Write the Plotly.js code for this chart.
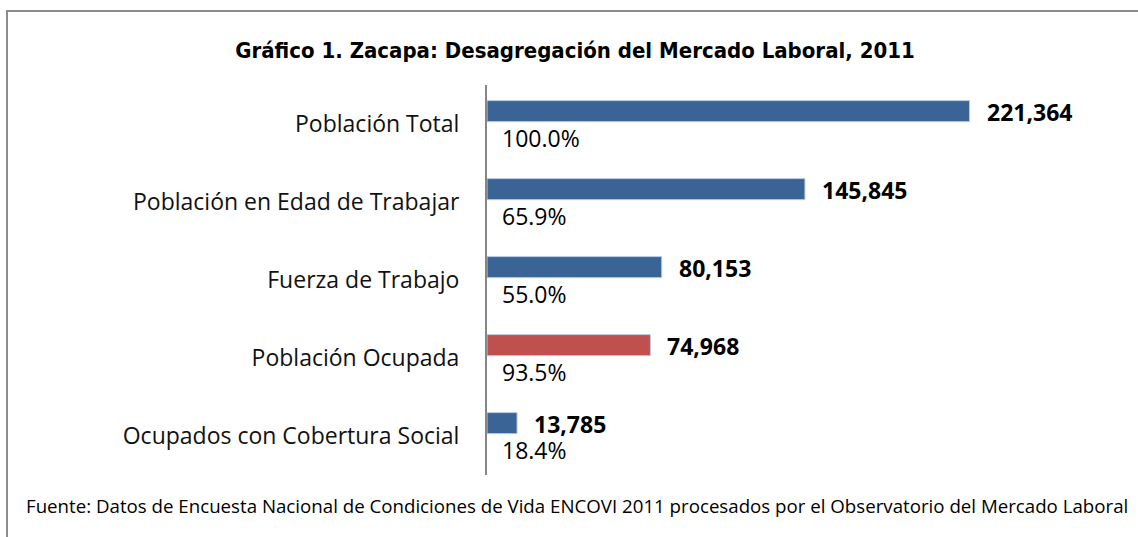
<!DOCTYPE html>
<html>
<head>
<meta charset="utf-8">
<script src="https://cdn.plot.ly/plotly-3.0.1.min.js"></script>
<style>
  html, body { margin: 0; padding: 0; background: #fff; }
  #wrap { position: relative; width: 1138px; height: 537px; overflow: hidden; }
  #frame { position: absolute; left: 6px; top: 10px; width: 1140px; height: 540px;
           border-top: 2px solid #8c8c8c; border-left: 2px solid #8c8c8c; pointer-events: none; }
  #chart { position: absolute; left: 0; top: 0; width: 1138px; height: 537px; }
</style>
</head>
<body>
<div id="wrap">
  <div id="chart"></div>
  <div id="frame"></div>
</div>
<script>
const categories = [
  "Población Total",
  "Población en Edad de Trabajar",
  "Fuerza de Trabajo",
  "Población Ocupada",
  "Ocupados con Cobertura Social"
];
const values = [221364, 145845, 80153, 74968, 13785];
const valueLabels = ["221,364", "145,845", "80,153", "74,968", "13,785"];
const percentLabels = ["100.0%", "65.9%", "55.0%", "93.5%", "18.4%"];
const barColors = ["#3a6496", "#3a6496", "#3a6496", "#c0504d", "#3a6496"];
const titleText = "Gráfico 1. Zacapa: Desagregación del Mercado Laboral, 2011";
const sourceText = "Fuente: Datos de Encuesta Nacional de Condiciones de Vida ENCOVI 2011 procesados por el Observatorio del Mercado Laboral";

const FONT = "'Open Sans', 'Noto Sans', sans-serif";

const trace = {
  type: "bar",
  orientation: "h",
  y: categories,
  x: values,
  width: 0.27,
  offset: -0.30,
  marker: { color: barColors, line: { color: "#b9cde5", width: 1 } },
  hoverinfo: "skip"
};

const annotations = [];
categories.forEach((c, i) => {
  annotations.push({
    x: values[i], y: c, xref: "x", yref: "y",
    text: valueLabels[i], showarrow: false,
    xanchor: "left", yanchor: "middle", xshift: 15, yshift: 12,
    font: { family: FONT, size: 23, color: "#000", weight: "bold" }
  });
  annotations.push({
    x: 0, y: c, xref: "x", yref: "y",
    text: percentLabels[i], showarrow: false,
    xanchor: "left", yanchor: "middle", xshift: 13, yshift: -14,
    font: { family: FONT, size: 23, color: "#000" }
  });
});
annotations.push({
  x: 577, y: 505, xref: "paper", yref: "paper",
  text: sourceText, showarrow: false,
  xanchor: "center", yanchor: "middle",
  font: { family: FONT, size: 18.7, color: "#000" }
});

const layout = {
  width: 1138, height: 537,
  margin: { l: 487, r: 105.5, t: 85, b: 62, pad: 0 },
  paper_bgcolor: "#fff", plot_bgcolor: "#fff",
  showlegend: false,
  title: {
    text: titleText, x: 575 / 1138, xanchor: "center", y: 1 - 50 / 537, yanchor: "middle",
    font: { family: "'Liberation Sans Narrow', 'DejaVu Sans Condensed', Arial, sans-serif", size: 22, color: "#000", weight: "bold" }
  },
  xaxis: {
    range: [0, 250000], visible: false, showgrid: false, zeroline: false, fixedrange: true
  },
  yaxis: {
    type: "category", autorange: "reversed",
    showline: true, linecolor: "#868686", linewidth: 2,
    ticks: "", showgrid: false, zeroline: false,
    ticklabelstandoff: 21,
    tickfont: { family: FONT, size: 23, color: "#111" }
  },
  annotations: annotations
};

// convert source annotation pixel coords to paper fractions
const pw = 1138 - 487 - 105.5, ph = 537 - 85 - 62;
const src = annotations[annotations.length - 1];
src.x = (src.x - 487) / pw;
src.y = (537 - 62 - src.y) / ph;

Plotly.newPlot("chart", [trace], layout, { displayModeBar: false, staticPlot: true });
</script>
</body>
</html>
